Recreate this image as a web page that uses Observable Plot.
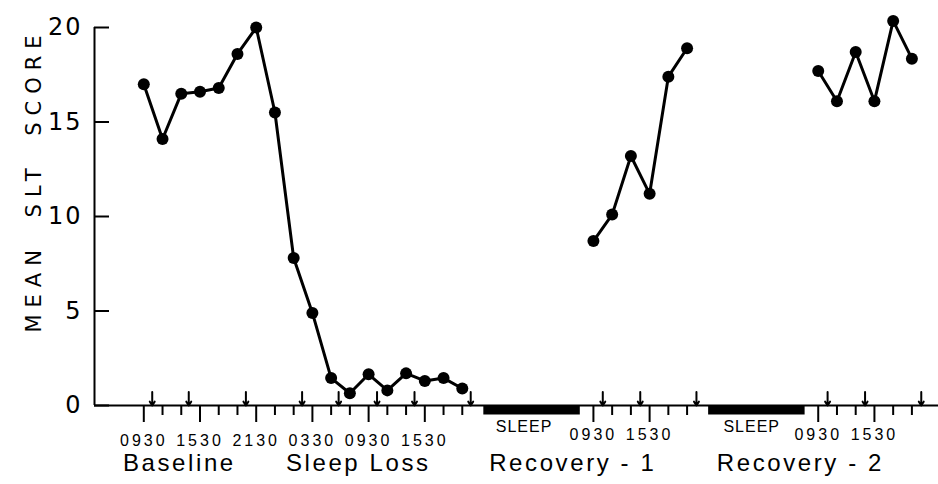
<!DOCTYPE html>
<html>
<head>
<meta charset="utf-8">
<script src="https://cdn.jsdelivr.net/npm/d3@7"></script>
<script src="https://cdn.jsdelivr.net/npm/@observablehq/plot@0.6"></script>
<style>
  body { margin: 0; background: #fff; }
  svg { display: block; }
</style>
</head>
<body>
<div id="chart"></div>
<script>
// Hours elapsed since 09:30 on the Baseline day
const baselineHours  = [0, 2, 4, 6, 8, 10, 12, 14, 16, 18, 20, 22, 24, 26, 28, 30, 32, 34];
const baselineScores = [17.0, 14.1, 16.5, 16.6, 16.8, 18.6, 20.0, 15.5, 7.8, 4.9, 1.45, 0.65, 1.65, 0.8, 1.7, 1.3, 1.45, 0.9];
const recovery1Hours  = [48, 50, 52, 54, 56, 58];
const recovery1Scores = [8.7, 10.1, 13.2, 11.2, 17.4, 18.9];
const recovery2Hours  = [72, 74, 76, 78, 80, 82];
const recovery2Scores = [17.7, 16.1, 18.7, 16.1, 20.35, 18.35];

const arrowHours = [0.9, 4.8, 10.9, 16.9, 20.8, 24.9, 28.9, 34.9, 49, 53, 59, 73, 77, 83];
const sleepStart = [36.3, 60.3];
const sleepEnd   = [46.6, 70.6];
const sleepLabelHours = [40.6, 64.9];

const majorTickHoursA  = [0, 6, 12, 18, 24, 30];
const majorTickLabelsA = ["0930", "1530", "2130", "0330", "0930", "1530"];
const majorTickHoursB  = [48, 54, 72, 78];
const majorTickLabelsB = ["0930", "1530", "0930", "1530"];
const minorTickHours = [2, 4, 8, 10, 14, 16, 20, 22, 26, 28, 32, 34, 50, 52, 56, 58, 74, 76, 80, 82];

const yTicks = [0, 5, 10, 15, 20];
const phaseNames = ["Baseline", "Sleep Loss", "Recovery - 1", "Recovery - 2"];
const phaseHours = [3.8, 22.9, 45.8, 70.1];
const yTitle = "MEAN SLT SCORE";

// Build the table the library needs
const points = [
  ...baselineHours.map((h, i) => ({phase: "A", hour: h, score: baselineScores[i]})),
  ...recovery1Hours.map((h, i) => ({phase: "B", hour: h, score: recovery1Scores[i]})),
  ...recovery2Hours.map((h, i) => ({phase: "C", hour: h, score: recovery2Scores[i]}))
];
const sleeps = sleepStart.map((s, i) => ({s, e: sleepEnd[i], c: sleepLabelHours[i]}));
const phases = phaseNames.map((n, i) => ({n, h: phaseHours[i]}));
const labA = new Map(majorTickHoursA.map((h, i) => [h, majorTickLabelsA[i]]));
const labB = new Map(majorTickHoursB.map((h, i) => [h, majorTickLabelsB[i]]));

const xDomain = [-5.263, 84.84];
const font = "Liberation Sans, Arial, sans-serif";
const wideFont = "DejaVu Sans, sans-serif";

const chart = Plot.plot({
  width: 938,
  height: 484,
  marginLeft: 94,
  marginRight: 0,
  marginTop: 27,
  marginBottom: 79,
  style: {fontFamily: font, background: "#fff", color: "#000", overflow: "visible"},
  x: {domain: xDomain, axis: null},
  y: {domain: [0, 20], axis: null},
  marks: [
    // axes lines
    Plot.ruleY([0], {stroke: "#000", strokeWidth: 2}),
    Plot.ruleX([xDomain[0]], {y1: 0, y2: 20, stroke: "#000", strokeWidth: 2}),
    // y axis: inward ticks and labels
    Plot.axisY({ticks: yTicks, tickSize: -15, tickPadding: 27, strokeWidth: 2, fontSize: 24, fontFamily: wideFont, tickFormat: d => String(d), label: null}),
    // x axis ticks
    Plot.axisX({ticks: minorTickHours, tickSize: 10, strokeWidth: 2, tickFormat: () => "", label: null}),
    Plot.axisX({ticks: majorTickHoursA, tickSize: 17, tickPadding: 12, strokeWidth: 2, fontSize: 16, tickFormat: d => labA.get(d), label: null}),
    Plot.axisX({ticks: majorTickHoursB, tickSize: 17, tickPadding: 6, strokeWidth: 2, fontSize: 16, tickFormat: d => labB.get(d), label: null}),
    // sleep bars
    Plot.ruleY(sleeps, {y: 0, x1: "s", x2: "e", stroke: "#000", strokeWidth: 9, dy: 4.5}),
    Plot.text(sleeps, {x: "c", y: 0, text: () => "SLEEP", dy: 21, fontSize: 16}),
    // arrows
    Plot.arrow(arrowHours, {x1: d => d, x2: d => d, y1: 0.72, y2: 0, stroke: "#000", strokeWidth: 2, headLength: 7, headAngle: 65}),
    // data
    Plot.line(points, {x: "hour", y: "score", z: "phase", stroke: "#000", strokeWidth: 3}),
    Plot.dot(points, {x: "hour", y: "score", r: 6, fill: "#000", stroke: "none"}),
    // phase labels
    Plot.text(phases, {x: "h", y: 0, text: "n", dy: 58, fontSize: 24}),
    // y title
    Plot.text([yTitle], {frameAnchor: "left", textAnchor: "middle", text: d => d, rotate: -90, dx: -60, dy: -36, fontSize: 21, fontFamily: wideFont})
  ]
});

// letter spacing to mimic the wide lettering of the original
const ySet = new Set(yTicks.map(String));
chart.querySelectorAll("text").forEach(t => {
  const s = t.textContent;
  let ls = null, ws = null;
  if (s === yTitle) { ls = 7; ws = 12; }
  else if (phaseNames.includes(s)) ls = 2.6;
  else if (s === "SLEEP") ls = 1;
  else if (/^\d{4}$/.test(s)) ls = 3;
  else if (ySet.has(s)) ls = 2;
  if (ls != null) t.style.letterSpacing = ls + "px";
  if (ws != null) t.style.wordSpacing = ws + "px";
});
document.getElementById("chart").appendChild(chart);
</script>
</body>
</html>
